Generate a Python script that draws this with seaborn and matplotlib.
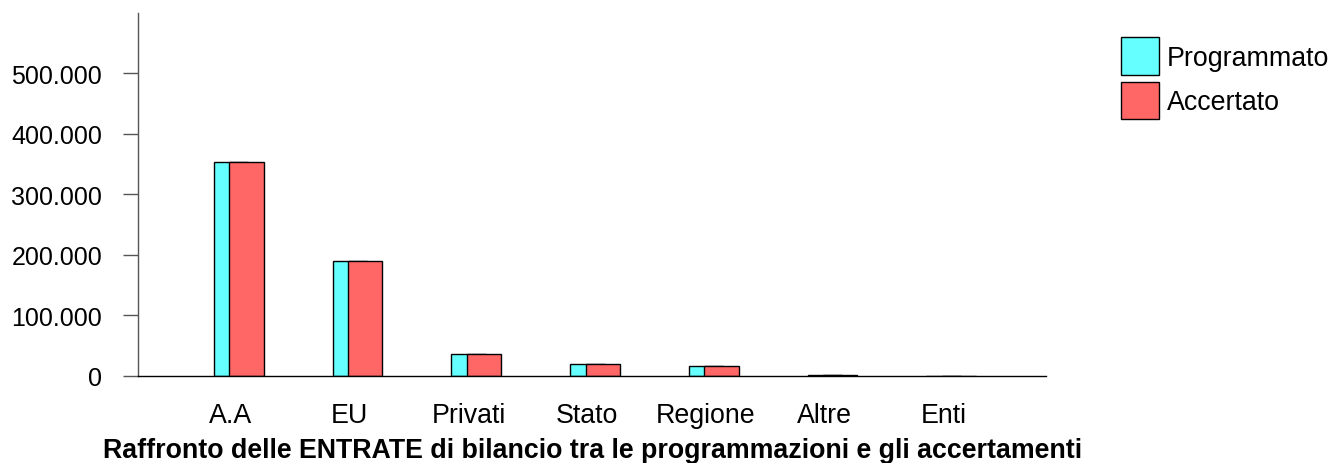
import numpy as np
import pandas as pd
import matplotlib
matplotlib.use('Agg')
import matplotlib.pyplot as plt
from matplotlib.patches import Patch
from matplotlib.ticker import FuncFormatter
import seaborn as sns

categorie = ['A.A', 'EU', 'Privati', 'Stato', 'Regione', 'Altre', 'Enti']
programmato = [354000, 189000, 35500, 20000, 16600, 1500, 300]
accertato = [354000, 189000, 35500, 20000, 16600, 1500, 300]
serie = ['Programmato', 'Accertato']
colori = ['#66FFFF', '#FF6666']
titolo = 'Raffronto delle ENTRATE di bilancio tra le programmazioni e gli accertamenti'

sns.set_style('white')
plt.rcParams['font.family'] = ['Liberation Sans', 'DejaVu Sans']
plt.rcParams['text.color'] = 'black'

pos = np.arange(len(categorie))
df_prog = pd.DataFrame({'x': pos, 'valore': programmato})
df_acc = pd.DataFrame({'x': pos + 0.13, 'valore': accertato})

fig = plt.figure(figsize=(13.29, 4.64), dpi=100)
ax = fig.add_axes([0.1038, 0.1881, 0.6830, 0.7817])

# cyan dietro, rosso sopra e spostato a destra
sns.barplot(data=df_prog, x='x', y='valore', native_scale=True, width=0.29,
            color=colori[0], saturation=1, edgecolor='black', linewidth=1.0, ax=ax)
sns.barplot(data=df_acc, x='x', y='valore', native_scale=True, width=0.29,
            color=colori[1], saturation=1, edgecolor='black', linewidth=1.0, ax=ax)

ax.set_xlim(-0.784, 6.86)
ax.set_ylim(0, 600000)
ax.set_xticks(pos)
ax.set_xticklabels(categorie)
ax.set_yticks(np.arange(0, 600000, 100000))
ax.yaxis.set_major_formatter(FuncFormatter(lambda v, p: f'{int(v):,}'.replace(',', '.')))
ax.set_xlabel('')
ax.set_ylabel('')

ax.spines[['top', 'right']].set_visible(False)
ax.spines['left'].set_color('#555555')
ax.spines['bottom'].set_color('black')
ax.spines['left'].set_linewidth(1.0)
ax.spines['bottom'].set_linewidth(1.0)
ax.tick_params(axis='y', left=True, length=10.8, width=1.0, color='#555555',
               pad=15, labelsize=18, labelcolor='black')
ax.tick_params(axis='x', bottom=False, pad=15.5, labelsize=19.3, labelcolor='black')

handles = [Patch(facecolor=c, edgecolor='black', linewidth=1.0) for c in colori]
fig.legend(handles, serie, loc='upper left', bbox_to_anchor=(0.8435, 0.9175),
           frameon=False, fontsize=19.3, handlelength=1.42, handleheight=1.78,
           handletextpad=0.3, labelspacing=0.25, borderpad=0, borderaxespad=0,
           labelcolor='black')

fig.text(0.4462, 0.013, titolo, ha='center', va='baseline', fontsize=19.3,
         fontweight='bold', color='black')

fig.savefig('out.png', dpi=100)
